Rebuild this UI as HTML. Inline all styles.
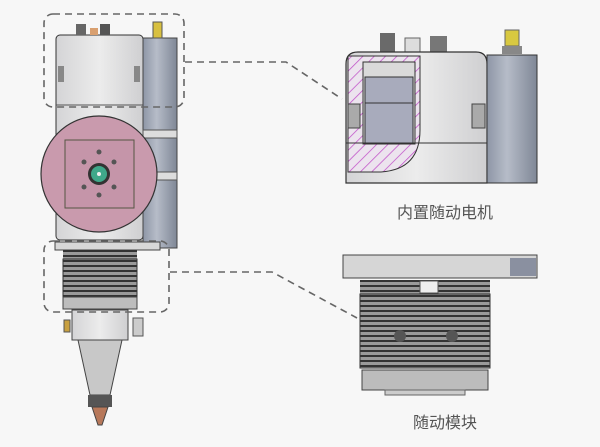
<!DOCTYPE html>
<html><head><meta charset="utf-8"><style>
html,body{margin:0;padding:0;background:#f7f7f7;}
svg{display:block}
text{font-family:"Liberation Sans","Noto Sans CJK SC",sans-serif;}
</style></head><body>
<svg width="600" height="447" viewBox="0 0 600 447" xmlns="http://www.w3.org/2000/svg">
<defs>
<linearGradient id="cyl" x1="0" x2="1"><stop offset="0" stop-color="#8e96a6"/><stop offset="0.4" stop-color="#b6bcc8"/><stop offset="1" stop-color="#7f8796"/></linearGradient>
<linearGradient id="body" x1="0" x2="1"><stop offset="0" stop-color="#d4d4d6"/><stop offset="0.5" stop-color="#ececec"/><stop offset="1" stop-color="#cfcfd1"/></linearGradient>
<pattern id="hatch" width="8" height="8" patternUnits="userSpaceOnUse" patternTransform="rotate(45)"><rect width="8" height="8" fill="#ece4ee"/><line x1="0" y1="0" x2="0" y2="8" stroke="#c050c8" stroke-width="1.5"/></pattern>
<pattern id="fins" width="4" height="5" patternUnits="userSpaceOnUse"><rect width="4" height="5" fill="#9a9a9a"/><rect y="0" width="4" height="2" fill="#333"/></pattern>
</defs>
<rect width="600" height="447" fill="#f7f7f7"/>

<!-- LEFT assembly -->
<!-- top body -->
<rect x="56" y="35" width="87" height="205" rx="4" fill="url(#body)" stroke="#333" stroke-width="1"/>
<line x1="56" y1="105" x2="143" y2="105" stroke="#555"/>
<rect x="58" y="66" width="6" height="16" fill="#888"/><rect x="134" y="66" width="6" height="16" fill="#888"/>
<!-- top connectors -->
<rect x="76" y="24" width="10" height="11" fill="#666"/><rect x="90" y="28" width="8" height="7" fill="#d9a070"/><rect x="100" y="24" width="10" height="11" fill="#555"/>
<!-- cylinder -->
<rect x="143" y="38" width="34" height="210" fill="url(#cyl)" stroke="#444"/>
<rect x="153" y="22" width="9" height="16" fill="#d8c040" stroke="#555"/>
<rect x="143" y="130" width="34" height="8" fill="#ddd" stroke="#555"/>
<rect x="143" y="172" width="34" height="8" fill="#ddd" stroke="#555"/>
<!-- pink disc -->
<circle cx="99" cy="174" r="58" fill="#c99aad" stroke="#333" stroke-width="1.2"/>
<rect x="65" y="140" width="69" height="68" fill="#c595a9" stroke="#554"/>
<g fill="#555"><circle cx="99" cy="152" r="2.5"/><circle cx="99" cy="195" r="2.5"/><circle cx="84" cy="162" r="2.5"/><circle cx="114" cy="162" r="2.5"/><circle cx="84" cy="187" r="2.5"/><circle cx="114" cy="187" r="2.5"/></g>
<circle cx="99" cy="174" r="11" fill="#333"/><circle cx="99" cy="174" r="8" fill="#3fa88a"/><circle cx="99" cy="174" r="2" fill="#eee"/>
<!-- plate -->
<rect x="55" y="242" width="105" height="8" fill="#d8d8d8" stroke="#444"/>
<!-- bellows -->
<rect x="63" y="250" width="74" height="9" fill="url(#fins)"/>
<rect x="63" y="259" width="74" height="38" fill="url(#fins)" stroke="#333"/>
<rect x="63" y="297" width="74" height="12" fill="#bdbdbd" stroke="#444"/>
<!-- lower nozzle -->
<rect x="72" y="310" width="56" height="30" fill="url(#body)" stroke="#444"/>
<polygon points="78,340 122,340 110,395 90,395" fill="#c8c8c8" stroke="#444"/>
<rect x="88" y="395" width="24" height="12" fill="#555"/>
<polygon points="92,407 108,407 102,425 98,425" fill="#b7785a" stroke="#444"/>
<rect x="133" y="318" width="10" height="18" fill="#ccc" stroke="#555"/>
<rect x="64" y="320" width="6" height="12" fill="#c8a040" stroke="#555"/>

<!-- dashed boxes -->
<g fill="none" stroke="#666" stroke-width="1.6" stroke-dasharray="7,5">
<rect x="44" y="14" width="140" height="93" rx="9"/>
<rect x="44" y="241" width="125" height="71" rx="9"/>
<polyline points="185,62 286,62 342,99"/>
<polyline points="170,272 272,272 357,318"/>
</g>

<!-- RIGHT upper detail -->
<rect x="380" y="33" width="15" height="19" fill="#6a6a6a"/><rect x="405" y="38" width="15" height="14" fill="#ddd" stroke="#666"/><rect x="430" y="36" width="17" height="16" fill="#777"/>
<rect x="505" y="30" width="14" height="16" fill="#d8c840" stroke="#666"/><rect x="502" y="46" width="20" height="8" fill="#888"/>
<path d="M346,183 L346,64 Q346,52 358,52 L476,52 Q487,52 487,64 L487,183 Z" fill="url(#body)" stroke="#333" stroke-width="1.2"/>
<path d="M348,56 L420,56 L420,130 Q420,170 380,172 L348,172 Z" fill="url(#hatch)" stroke="#333"/>
<rect x="363" y="62" width="52" height="82" fill="#dadada" stroke="#333"/>
<rect x="365" y="77" width="48" height="66" fill="#a8abbc" stroke="#333"/>
<line x1="365" y1="103" x2="413" y2="103" stroke="#333"/>
<line x1="346" y1="143" x2="487" y2="143" stroke="#333"/>
<rect x="472" y="104" width="13" height="24" fill="#aaa" stroke="#444"/>
<rect x="348" y="104" width="12" height="24" fill="#aaa" stroke="#444"/>
<rect x="487" y="55" width="50" height="128" fill="url(#cyl)" stroke="#333"/>
<text x="445" y="218" font-size="16" fill="#555" text-anchor="middle">内置随动电机</text>

<!-- RIGHT lower detail -->
<rect x="343" y="255" width="194" height="23" fill="#d6d6d6" stroke="#444"/>
<rect x="510" y="258" width="26" height="18" fill="#8a90a0"/>
<rect x="360" y="280" width="130" height="14" fill="url(#fins)"/>
<rect x="420" y="281" width="18" height="12" fill="#eee" stroke="#555"/>
<rect x="360" y="294" width="130" height="74" fill="url(#fins)" stroke="#333"/>
<circle cx="400" cy="336" r="6" fill="#555"/><circle cx="452" cy="336" r="6" fill="#555"/>
<rect x="362" y="370" width="126" height="20" fill="#bcbcbc" stroke="#444"/>
<rect x="385" y="390" width="80" height="5" fill="#ccc" stroke="#666"/>
<text x="445" y="428" font-size="16" fill="#555" text-anchor="middle">随动模块</text>
</svg>
</body></html>
